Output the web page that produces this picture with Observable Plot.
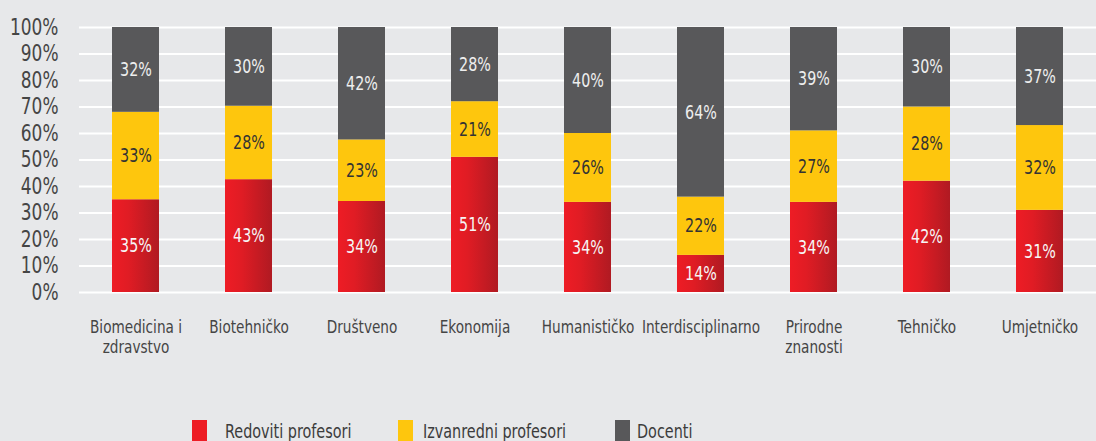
<!DOCTYPE html>
<html>
<head>
<meta charset="utf-8">
<script src="https://cdn.jsdelivr.net/npm/d3@7"></script>
<script src="https://cdn.jsdelivr.net/npm/@observablehq/plot@0.6"></script>
<style>
html, body { margin: 0; padding: 0; background: #e7e8ea; width: 1096px; height: 441px; overflow: hidden; }
body { position: relative; font-family: 'DejaVu Sans Condensed', 'DejaVu Sans', sans-serif; }
#legend { position: absolute; top: 0; left: 0; width: 1096px; height: 441px; pointer-events: none; }
.sw { position: absolute; top: 420px; width: 15px; height: 22px; }
.lt { position: absolute; top: 421px; font-size: 19.5px; line-height: 21px; color: #3c3c3c; white-space: nowrap; transform: scaleX(0.82); transform-origin: 0 0; }
</style>
</head>
<body>
<div id="chart"></div>
<div id="legend"></div>
<script>
// ---- data ----
const categories = ["Biomedicina i zdravstvo", "Biotehničko", "Društveno", "Ekonomija", "Humanističko", "Interdisciplinarno", "Prirodne znanosti", "Tehničko", "Umjetničko"];
const xLabels = ["Biomedicina i\nzdravstvo", "Biotehničko", "Društveno", "Ekonomija", "Humanističko", "Interdisciplinarno", "Prirodne\nznanosti", "Tehničko", "Umjetničko"];
const redoviti = [35, 43, 34, 51, 34, 14, 34, 42, 31];
const izvanredni = [33, 28, 23, 21, 26, 22, 27, 28, 32];
const docenti = [32, 30, 42, 28, 40, 64, 39, 30, 37];
const seriesNames = ["Redoviti profesori", "Izvanredni profesori", "Docenti"];
const yTicks = [0, 10, 20, 30, 40, 50, 60, 70, 80, 90, 100];

// ---- styling ----
const seriesColors = ["url(#redGrad)", "#fec60d", "#58585a"];
const legendColors = ["#ed1c24", "#fec60d", "#58585a"];
const labelColors = ["#f6f6f6", "#333333", "#eeeeee"];
const FONT = "'DejaVu Sans Condensed', 'DejaVu Sans', sans-serif";
const SQUEEZE = 0.82;

const seriesValues = [redoviti, izvanredni, docenti];
const rows = [];
categories.forEach((c, i) => {
  const total = seriesValues.reduce((s, v) => s + v[i], 0);
  let acc = 0;
  seriesValues.forEach((vals, k) => {
    const v = vals[i] / total * 100;
    rows.push({category: c, series: seriesNames[k], k, value: vals[i], y1: acc, y2: acc + v});
    acc += v;
  });
});

const chart = Plot.plot({
  width: 1096,
  height: 404,
  marginLeft: 79,
  marginRight: 0,
  marginTop: 27,
  marginBottom: 112,
  style: {background: "transparent", fontFamily: FONT, overflow: "visible"},
  x: {domain: categories, paddingInner: 0.585, paddingOuter: 0.2925, axis: null},
  y: {domain: [0, 100], axis: null},
  marks: [
    Plot.ruleY(yTicks, {stroke: "#ffffff", strokeWidth: 2}),
    ...seriesNames.map((s, k) => Plot.barY(rows.filter(r => r.k === k), {x: "category", y1: "y1", y2: "y2", fill: seriesColors[k]})),
    ...seriesNames.map((s, k) => Plot.text(rows.filter(r => r.k === k), {
      x: "category", y: r => (r.y1 + r.y2) / 2, text: r => r.value + "%",
      fill: labelColors[k], fontSize: 19.4
    })),
    Plot.axisY({ticks: yTicks, tickSize: 0, tickPadding: 21, tickFormat: d => d + "%", fontSize: 23, color: "#454545", label: null}),
    Plot.axisX({tickSize: 0, tickPadding: 26, tickFormat: d => xLabels[categories.indexOf(d)], fontSize: 18.5, lineHeight: 1.1, color: "#454545", label: null})
  ]
});

d3.select(chart).insert("defs", ":first-child").html(
  '<linearGradient id="redGrad" x1="0" x2="1" y1="0" y2="0">' +
  '<stop offset="0" stop-color="#ee1c25"/>' +
  '<stop offset="0.35" stop-color="#e01c24"/>' +
  '<stop offset="1" stop-color="#b01a22"/>' +
  '</linearGradient>'
);
// condense all texts horizontally (DIN-like narrow face)
d3.select(chart).selectAll("text").each(function() {
  const tr = this.getAttribute("transform") || "";
  this.setAttribute("transform", tr + ` scale(${SQUEEZE},1)`);
});
document.getElementById("chart").appendChild(chart);

// ---- legend ----
const swatchX = [192, 398, 615];
const textX = [225, 423, 637];
const legend = document.getElementById("legend");
seriesNames.forEach((name, k) => {
  const sw = document.createElement("div");
  sw.className = "sw";
  sw.style.left = swatchX[k] + "px";
  sw.style.background = legendColors[k];
  legend.appendChild(sw);
  const t = document.createElement("div");
  t.className = "lt";
  t.style.left = textX[k] + "px";
  t.textContent = name;
  legend.appendChild(t);
});
</script>
</body>
</html>
